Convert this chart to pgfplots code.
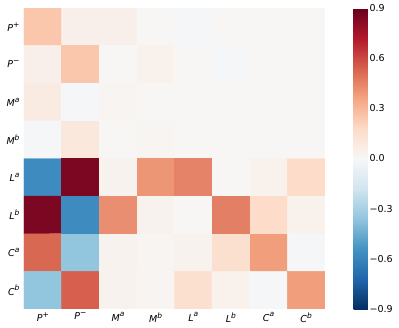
\documentclass[border=0pt]{standalone}
\usepackage{fontspec}
\setmainfont{DejaVu Sans}
\usepackage{pgfplots}
\pgfplotsset{compat=1.18}
\pgfplotsset{colormap={rdbur}{rgb255=(5,48,97) rgb255=(33,102,172) rgb255=(67,147,195)
  rgb255=(146,197,222) rgb255=(209,229,240) rgb255=(247,247,247) rgb255=(253,219,199)
  rgb255=(244,165,130) rgb255=(214,96,77) rgb255=(178,24,43) rgb255=(103,0,31)}}
% label with a superscript, close to the matplotlib mathtext look
\newcommand{\lab}[2]{{\itshape #1}\raisebox{0.45em}{\fontsize{7.5}{8}\selectfont\itshape #2}}
\begin{document}
\begin{tikzpicture}
\path[use as bounding box] (0,0) rectangle (399pt,328pt);
\begin{axis}[
    at={(24pt,19pt)}, anchor=south west,
    width=301pt, height=301pt, scale only axis,
    xmin=-0.5, xmax=7.5, ymin=-0.5, ymax=7.5,
    y dir=reverse,
    axis line style={draw=none},
    major tick length=0pt,
    xtick={0,...,7}, ytick={0,...,7},
    xticklabels={\lab{P}{+},\lab{P}{−},\lab{M}{a},\lab{M}{b},\lab{L}{a},\lab{L}{b},\lab{C}{a},\lab{C}{b}},
    yticklabels={\lab{P}{+},\lab{P}{−},\lab{M}{a},\lab{M}{b},\lab{L}{a},\lab{L}{b},\lab{C}{a},\lab{C}{b}},
    tick label style={font=\fontsize{9.5}{10}\selectfont},
    yticklabel style={xshift=-1pt},
    colormap name=rdbur,
    point meta min=-0.9, point meta max=0.9,
    colorbar,
    colorbar style={
        at={(parent axis.north east)}, anchor=north west, xshift=20pt,
        width=15.6pt,
        axis line style={draw=none},
        major tick length=0pt,
        ytick={-0.9,-0.6,-0.3,0,0.3,0.6,0.9},
        yticklabels={−0.9,−0.6,−0.3,0.0,0.3,0.6,0.9},
        yticklabel style={font=\fontsize{9.5}{10}\selectfont, xshift=-3pt},
    },
]
\addplot[matrix plot*, mesh/cols=8, point meta=explicit] table[meta=c] {
x y c
0 0 0.25
1 0 0.05
2 0 0.05
3 0 0.01
4 0 -0.01
5 0 0.01
6 0 0.01
7 0 0.01
0 1 0.05
1 1 0.25
2 1 0.01
3 1 0.04
4 1 0.01
5 1 -0.01
6 1 0.01
7 1 0.01
0 2 0.08
1 2 -0.01
2 2 0.02
3 2 0.01
4 2 0.01
5 2 0.01
6 2 0.01
7 2 0.01
0 3 -0.01
1 3 0.10
2 3 0.01
3 3 0.02
4 3 0.01
5 3 0.01
6 3 0.01
7 3 0.01
0 4 -0.57
1 4 0.85
2 4 0.03
3 4 0.40
4 4 0.45
5 4 0.01
6 4 0.04
7 4 0.17
0 5 0.85
1 5 -0.57
2 5 0.42
3 5 0.03
4 5 0.01
5 5 0.46
6 5 0.17
7 5 0.04
0 6 0.52
1 6 -0.36
2 6 0.03
3 6 0.02
4 6 0.03
5 6 0.15
6 6 0.38
7 6 -0.01
0 7 -0.36
1 7 0.54
2 7 0.03
3 7 0.02
4 7 0.15
5 7 0.04
6 7 -0.01
7 7 0.38
};
\end{axis}
\end{tikzpicture}
\end{document}
